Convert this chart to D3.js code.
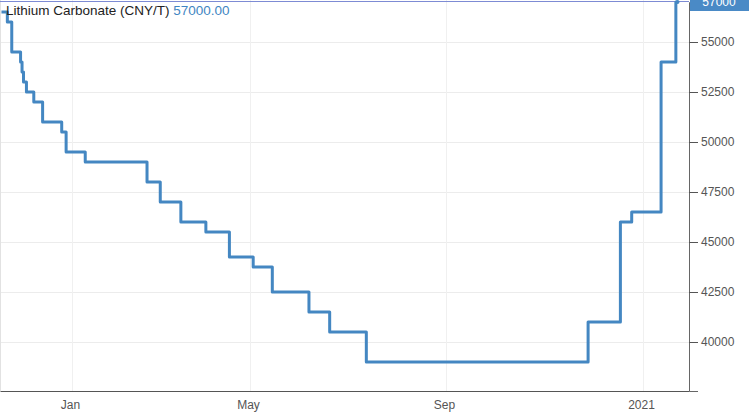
<!DOCTYPE html>
<html>
<head>
<meta charset="utf-8">
<script src="https://cdn.jsdelivr.net/npm/d3@7"></script>
<style>
  body { margin: 0; background: #fff; }
  svg { display: block; font-family: "Liberation Sans", Arial, sans-serif; }
</style>
</head>
<body>
<div id="chart"></div>
<script>
// Price change points (value holds until next date)
const changeDates = [
    "2019-11-14", "2019-11-18", "2019-11-21", "2019-11-27", "2019-11-28", "2019-11-29",
    "2019-12-01", "2019-12-06", "2019-12-12", "2019-12-25", "2019-12-28", "2020-01-10",
    "2020-02-21", "2020-03-01", "2020-03-15", "2020-04-01", "2020-04-17", "2020-05-03",
    "2020-05-15", "2020-06-07", "2020-06-20", "2020-07-13", "2020-11-28", "2020-12-18",
    "2020-12-25", "2021-01-12", "2021-01-21", "2021-01-22"
];
const prices = [
    56500, 56000, 54500, 54000, 53500, 53000,
    52500, 52000, 51000, 50500, 49500, 49000,
    48000, 47000, 46000, 45500, 44250, 43750,
    42500, 41500, 40500, 39000, 41000, 46000,
    46500, 54000, 57000, 57000
];

const xTickDates = ["2020-01-01", "2020-05-01", "2020-09-01", "2021-01-01"];
const xTickLabels = ["Jan", "May", "Sep", "2021"];
const yTicks = [40000, 42500, 45000, 47500, 50000, 52500, 55000];

const title = "Lithium Carbonate (CNY/T)";

const parse = d3.timeParse("%Y-%m-%d");
const data = changeDates.map((d, i) => ({date: parse(d), value: prices[i]}));
const last = data[data.length - 1];

const width = 754, height = 417;
const plotRight = 689, plotBottom = 391;

// x axis is not evenly spaced in calendar time (trading calendar), so use a polylinear time scale
const xDomain = [parse("2019-11-13")].concat(xTickDates.map(parse), [parse("2021-01-29")]);
const xScale = d3.scaleTime()
    .domain(xDomain)
    .range([0, 72, 250, 446, 643, plotRight]);

const yScale = d3.scaleLinear()
    .domain([37550, 57000])
    .range([plotBottom, 2]);

const svg = d3.select("#chart").append("svg")
    .attr("width", width)
    .attr("height", height);

// grid
svg.append("g")
    .selectAll("line")
    .data(yTicks)
    .join("line")
    .attr("x1", 0).attr("x2", plotRight)
    .attr("y1", d => Math.round(yScale(d)) + 0.5)
    .attr("y2", d => Math.round(yScale(d)) + 0.5)
    .attr("stroke", "#ececec");

svg.append("g")
    .selectAll("line")
    .data(xTickDates.map(parse))
    .join("line")
    .attr("x1", d => Math.round(xScale(d)) + 0.5)
    .attr("x2", d => Math.round(xScale(d)) + 0.5)
    .attr("y1", 0).attr("y2", plotBottom)
    .attr("stroke", "#f0f0f0");

svg.append("line")
    .attr("x1", 0.5).attr("x2", 0.5)
    .attr("y1", 0).attr("y2", plotBottom)
    .attr("stroke", "#e2e2e2");

// last value line
svg.append("line")
    .attr("x1", 0).attr("x2", plotRight)
    .attr("y1", yScale(last.value) - 0.5)
    .attr("y2", yScale(last.value) - 0.5)
    .attr("stroke", "#7d8bd4")
    .attr("stroke-width", 1);

// x axis
const xAxis = svg.append("g")
    .attr("transform", `translate(0,${plotBottom})`)
    .call(d3.axisBottom(xScale)
        .tickValues(xTickDates.map(parse))
        .tickFormat((d, i) => xTickLabels[i])
        .tickSize(0)
        .tickSizeOuter(0)
        .tickPadding(9));
xAxis.select(".domain").attr("stroke", "#555").attr("stroke-width", 1.2);
xAxis.selectAll("text")
    .attr("fill", "#555")
    .attr("font-size", 12)
    .attr("dx", -2);

// y axis (right)
const yAxis = svg.append("g")
    .attr("transform", `translate(${plotRight},0)`)
    .call(d3.axisRight(yScale)
        .tickValues(yTicks)
        .tickSize(9)
        .tickSizeOuter(9)
        .tickPadding(3)
        .tickFormat(d3.format("d")));
yAxis.select(".domain").attr("stroke", "#666");
yAxis.selectAll(".tick line").attr("stroke", "#555");
yAxis.selectAll("text")
    .attr("fill", "#555")
    .attr("font-size", 12);

// price line
const line = d3.line()
    .x(d => xScale(d.date))
    .y(d => yScale(d.value))
    .curve(d3.curveStepAfter);

svg.append("path")
    .datum(data)
    .attr("d", line)
    .attr("fill", "none")
    .attr("stroke", "#4487c2")
    .attr("stroke-width", 3)
    .attr("stroke-linejoin", "round");

svg.append("circle")
    .attr("cx", xScale(last.date))
    .attr("cy", yScale(last.value))
    .attr("r", 2)
    .attr("fill", "#4487c2");

// last value label
const yLast = yScale(last.value);
svg.append("rect")
    .attr("x", plotRight + 1)
    .attr("y", yLast - 10)
    .attr("width", 59)
    .attr("height", 19)
    .attr("fill", "#4a8ac6");
svg.append("text")
    .attr("x", plotRight + 30)
    .attr("y", yLast + 4)
    .attr("text-anchor", "middle")
    .attr("fill", "#fff")
    .attr("font-size", 12)
    .text(d3.format("d")(last.value));

// title
const t = svg.append("text")
    .attr("x", 6)
    .attr("y", 15)
    .attr("font-size", 13.5);
t.append("tspan").attr("fill", "#222").text(title + " ");
t.append("tspan").attr("fill", "#3f86c2").text(d3.format(".2f")(last.value));
</script>
</body>
</html>
